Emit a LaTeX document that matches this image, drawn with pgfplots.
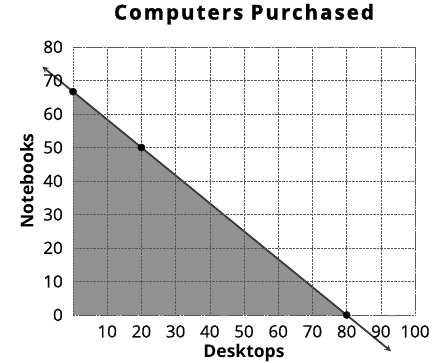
\documentclass[border=0pt]{standalone}
\usepackage{pgfplots}
\pgfplotsset{compat=1.18}
\usepackage{fontspec}
\setmainfont{Open Sans}
\newfontfamily\titlefont[LetterSpace=10,FakeBold=1.4]{Open Sans}
\newfontfamily\tickfont[FakeBold=0.4]{Open Sans}
\definecolor{shade}{HTML}{929292}
\definecolor{lineg}{HTML}{3A3A3A}
\begin{document}
\begin{tikzpicture}
\path[use as bounding box] (-73pt,-48pt) rectangle (368pt,315pt);
\begin{axis}[
  scale only axis, width=342pt, height=268pt,
  xmin=0, xmax=100, ymin=0, ymax=80,
  xtick={10,20,...,100}, ytick={0,10,...,80},
  major tick length=0pt,
  grid=major,
  grid style={densely dotted, black!65, line width=0.5pt},
  axis line style={densely dotted, black!65, line width=0.5pt},
  axis on top,
  clip=false,
  /pgf/number format/assume math mode=true,
  tick label style={font=\tickfont\fontsize{17}{18}\selectfont, inner sep=0pt},
  xticklabel style={anchor=base, yshift=-22.5pt},
  yticklabel style={anchor=base east, xshift=-10pt, yshift=-6pt},
  title={\titlefont\bfseries Computers Purchased},
  title style={font=\fontsize{20.5}{22}\selectfont, at={(axis description cs:0.5,1.1)}, anchor=center},
  xlabel={\textbf{Desktops}},
  ylabel={\textbf{Notebooks}},
  label style={font=\fontsize{17.5}{20}\selectfont},
  xlabel style={at={(axis description cs:0.5,-0.14)}, anchor=center},
  ylabel style={at={(axis description cs:-0.135,0.5)}, anchor=center, rotate=0},
]
\addplot[draw=none, fill=shade] coordinates {(0,0) (0,66.67) (80,0)} -- cycle;
\addplot[lineg, line width=1.8pt, <->, >=stealth] coordinates {(-9,74.17) (93,-10.83)};
\addplot[only marks, mark=*, mark size=3.6pt, black] coordinates {(0,66.67) (20,50) (80,0)};
\end{axis}
\end{tikzpicture}
\end{document}
